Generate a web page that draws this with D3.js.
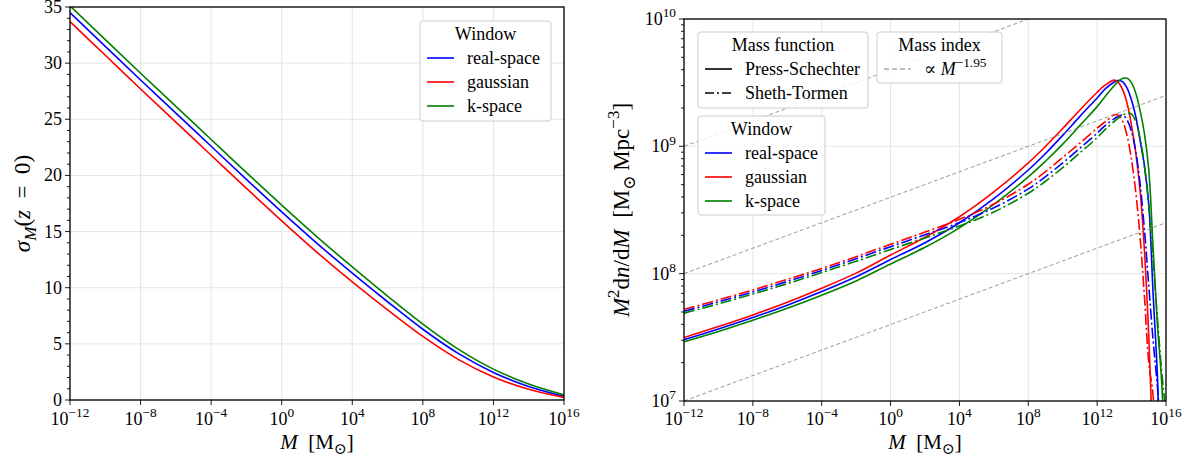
<!DOCTYPE html>
<html>
<head>
<meta charset="utf-8">
<script src="https://cdn.jsdelivr.net/npm/d3@7"></script>
<style>
  body { margin: 0; background: #fff; }
  text { font-family: "Liberation Serif", "DejaVu Serif", serif; fill: #000; }
</style>
</head>
<body>
<div id="chart"></div>
<script>
// ---- data: left panel, sigma_M(z=0) at M = 10^exp ----
const sigmaExp   = [-12, -10, -8, -6, -4, -2, 0, 2, 4, 6, 8, 10, 12, 14, 16];
const sigmaReal  = [34.5, 31.5, 28.5, 25.55, 22.6, 19.65, 16.75, 13.95, 11.3, 8.75, 6.3, 4.15, 2.45, 1.2, 0.32];
const sigmaGauss = [33.7, 30.7, 27.7, 24.75, 21.8, 18.85, 15.95, 13.15, 10.52, 8.03, 5.66, 3.62, 2.05, 0.95, 0.23];
const sigmaK     = [35.1, 32.1, 29.1, 26.15, 23.2, 20.25, 17.35, 14.53, 11.85, 9.25, 6.75, 4.53, 2.75, 1.42, 0.45];

// ---- data: right panel, M^2 dn/dM at M = 10^exp ----
const hmfExp = [-12, -10, -8, -6, -4, -2, 0, 2, 4, 6, 8, 9, 10, 11, 12, 12.5, 13, 13.25, 13.5, 13.75, 14, 14.25, 14.5, 14.75, 15, 15.25, 15.5, 15.75, 16];
const psGauss = [3.15e7, 3.84e7, 4.74e7, 5.97e7, 7.69e7, 1.01e8, 1.40e8, 1.93e8, 2.80e8, 4.39e8, 7.41e8, 1.0e9, 1.38e9, 1.93e9, 2.66e9, 3.05e9, 3.31e9, 3.15e9, 2.75e9, 2.15e9, 1.45e9, 8.8e8, 4.4e8, 1.5e8, 3.2e7, 4e6, 2e5, 5e3, 1e2];
const psReal  = [3.03e7, 3.68e7, 4.53e7, 5.66e7, 7.24e7, 9.46e7, 1.29e8, 1.75e8, 2.51e8, 3.88e8, 6.52e8, 8.79e8, 1.22e9, 1.72e9, 2.4e9, 2.85e9, 3.2e9, 3.3e9, 3.2e9, 2.85e9, 2.3e9, 1.7e9, 1.1e9, 7e8, 3.5e8, 7e7, 1.6e7, 1.5e6, 5e4];
const psK     = [2.92e7, 3.52e7, 4.31e7, 5.35e7, 6.78e7, 8.77e7, 1.19e8, 1.61e8, 2.29e8, 3.5e8, 5.75e8, 7.64e8, 1.04e9, 1.46e9, 2.05e9, 2.5e9, 3.0e9, 3.25e9, 3.42e9, 3.42e9, 3.15e9, 2.6e9, 1.9e9, 1.25e9, 6.5e8, 1.6e8, 4e7, 1.4e7, 2e6];
const stGauss = [5.25e7, 6.22e7, 7.45e7, 9.02e7, 1.10e8, 1.36e8, 1.70e8, 2.12e8, 2.67e8, 3.52e8, 5.04e8, 6.34e8, 8.17e8, 1.06e9, 1.39e9, 1.57e9, 1.77e9, 1.75e9, 1.55e9, 1.2e9, 7.8e8, 4.3e8, 1.9e8, 6.5e7, 2e7, 1.1e7, 2e6, 1e5, 1e3];
const stReal  = [5.07e7, 6.01e7, 7.18e7, 8.69e7, 1.06e8, 1.31e8, 1.63e8, 2.02e8, 2.52e8, 3.29e8, 4.63e8, 5.78e8, 7.41e8, 9.66e8, 1.27e9, 1.47e9, 1.65e9, 1.73e9, 1.76e9, 1.6e9, 1.3e9, 9e8, 5e8, 2.2e8, 8e7, 3e7, 1.3e7, 4e6, 5e5];
const stK     = [4.9e7, 5.79e7, 6.92e7, 8.34e7, 1.02e8, 1.25e8, 1.55e8, 1.91e8, 2.37e8, 3.05e8, 4.28e8, 5.32e8, 6.81e8, 8.89e8, 1.17e9, 1.37e9, 1.57e9, 1.67e9, 1.76e9, 1.82e9, 1.79e9, 1.55e9, 1.15e9, 7e8, 3.4e8, 1.3e8, 4.5e7, 1.7e7, 8e6];

// power law guides  M^2 dn/dM  ~ M^(2 + index), normalised at M = 1e-12
const massIndex = -1.95;
const guideNorms = [1e7, 1e8, 1e9];

const windows = ["real-space", "gaussian", "k-space"];
const winColors = ["#0000ff", "#ff0000", "#008000"];
const massTickExp = [-12, -8, -4, 0, 4, 8, 12, 16];
const sigmaTicks = [0, 5, 10, 15, 20, 25, 30, 35];
const hmfTicks = [1e7, 1e8, 1e9, 1e10];

const W = 1194, H = 458;
const svg = d3.select("#chart").append("svg").attr("width", W).attr("height", H);
const FS = 18;

// text with italic / sub / sup pieces
const rich = (t, parts, size) => {
  let shift = 0;
  parts.forEach(([s, st]) => {
    const sp = t.append("tspan").text(s);
    let target = 0;
    if (st.endsWith("sup")) target = -0.42 * size;
    if (st.endsWith("sub")) target = 0.25 * size;
    sp.attr("dy", target - shift);
    shift = target;
    if (target !== 0) sp.attr("font-size", size * 0.74);
    if (st[0] === "i") sp.attr("font-style", "italic");
  });
  return t;
};
const pow10 = e => [["10", ""], [(e < 0 ? "\u2212" : "") + Math.abs(e), "sup"]];

const frame = (P) => {
  svg.append("rect").attr("x", P.x0).attr("y", P.y0)
    .attr("width", P.x1 - P.x0).attr("height", P.y1 - P.y0)
    .attr("fill", "none").attr("stroke", "#000").attr("stroke-width", 1.3);
};

const legend = (x, y, w, h, title, items) => {
  const g = svg.append("g");
  g.append("rect").attr("x", x).attr("y", y).attr("width", w).attr("height", h)
    .attr("rx", 3).attr("fill", "#fff").attr("fill-opacity", 0.85)
    .attr("stroke", "#cccccc").attr("stroke-width", 1);
  g.append("text").attr("x", x + w / 2).attr("y", y + 13 + 6)
    .attr("text-anchor", "middle").attr("font-size", FS).text(title);
  items.forEach((it, i) => {
    const cy = y + 37 + i * 24;
    g.append("line").attr("x1", x + 7).attr("x2", x + 34).attr("y1", cy).attr("y2", cy)
      .attr("stroke", it.color).attr("stroke-width", it.width || 1.6)
      .attr("stroke-dasharray", it.dash || null);
    rich(g.append("text").attr("x", x + 47).attr("y", cy + 6).attr("font-size", FS), it.label, FS);
  });
};

const curve = d3.curveCatmullRom.alpha(0.5);

// ================= left panel =================
const L = {x0: 70, x1: 564, y0: 7, y1: 400};
const xL = d3.scaleLog().domain([1e-12, 1e16]).range([L.x0, L.x1]);
const yL = d3.scaleLinear().domain([0, 35]).range([L.y1, L.y0]);

svg.append("clipPath").attr("id", "clipL").append("rect")
  .attr("x", L.x0).attr("y", L.y0).attr("width", L.x1 - L.x0).attr("height", L.y1 - L.y0);

const gridL = svg.append("g").attr("stroke", "#dedede").attr("stroke-width", 0.8);
massTickExp.forEach(e => gridL.append("line").attr("x1", xL(10 ** e)).attr("x2", xL(10 ** e)).attr("y1", L.y0).attr("y2", L.y1));
sigmaTicks.forEach(v => gridL.append("line").attr("x1", L.x0).attr("x2", L.x1).attr("y1", yL(v)).attr("y2", yL(v)));

const lineL = d3.line().x(d => xL(10 ** d[0])).y(d => yL(d[1])).curve(curve);
[sigmaReal, sigmaGauss, sigmaK].forEach((s, i) => {
  svg.append("path").attr("clip-path", "url(#clipL)")
    .attr("d", lineL(sigmaExp.map((e, j) => [e, s[j]])))
    .attr("fill", "none").attr("stroke", winColors[i]).attr("stroke-width", 1.6);
});

// ticks left
const tL = svg.append("g").attr("stroke", "#000").attr("stroke-width", 0.9);
massTickExp.forEach(e => tL.append("line").attr("x1", xL(10 ** e)).attr("x2", xL(10 ** e)).attr("y1", L.y1).attr("y2", L.y1 + 5));
d3.range(0, 36).forEach(v => tL.append("line").attr("x1", L.x0).attr("x2", L.x0 - (v % 5 === 0 ? 5 : 3)).attr("y1", yL(v)).attr("y2", yL(v)));
frame(L);

massTickExp.forEach(e => rich(svg.append("text").attr("x", xL(10 ** e)).attr("y", 425)
  .attr("text-anchor", "middle").attr("font-size", FS), pow10(e), FS));
sigmaTicks.forEach(v => svg.append("text").attr("x", L.x0 - 8).attr("y", yL(v) + 6)
  .attr("text-anchor", "end").attr("font-size", FS).text(v));

rich(svg.append("text").attr("x", (L.x0 + L.x1) / 2).attr("y", 449).attr("text-anchor", "middle").attr("font-size", 21),
  [["M", "i"], ["\u2002[M", ""], ["\u2299", "sub"], ["]", ""]], 21);
rich(svg.append("text").attr("transform", `translate(30,${(L.y0 + L.y1) / 2}) rotate(-90)`)
  .attr("text-anchor", "middle").attr("font-size", 23),
  [["\u03c3", "i"], ["M", "isub"], ["(", ""], ["z", "i"], ["\u2002=\u20020)", ""]], 23);

legend(420, 21, 131, 100, "Window",
  windows.map((w, i) => ({label: [[w, ""]], color: winColors[i]})));

// ================= right panel =================
const R = {x0: 684, x1: 1166, y0: 19, y1: 401};
const xR = d3.scaleLog().domain([1e-12, 1e16]).range([R.x0, R.x1]);
const yR = d3.scaleLog().domain([1e7, 1e10]).range([R.y1, R.y0]);

svg.append("clipPath").attr("id", "clipR").append("rect")
  .attr("x", R.x0).attr("y", R.y0).attr("width", R.x1 - R.x0).attr("height", R.y1 - R.y0);

const gridR = svg.append("g").attr("stroke", "#dedede").attr("stroke-width", 0.8);
massTickExp.forEach(e => gridR.append("line").attr("x1", xR(10 ** e)).attr("x2", xR(10 ** e)).attr("y1", R.y0).attr("y2", R.y1));
hmfTicks.forEach(v => gridR.append("line").attr("x1", R.x0).attr("x2", R.x1).attr("y1", yR(v)).attr("y2", yR(v)));

const plotR = svg.append("g").attr("clip-path", "url(#clipR)");
const lineR = d3.line().x(d => xR(10 ** d[0])).y(d => yR(d[1])).curve(curve);
[psReal, psGauss, psK].forEach((s, i) => {
  plotR.append("path").attr("d", lineR(hmfExp.map((e, j) => [e, s[j]])))
    .attr("fill", "none").attr("stroke", winColors[i]).attr("stroke-width", 1.6);
});
[stReal, stGauss, stK].forEach((s, i) => {
  plotR.append("path").attr("d", lineR(hmfExp.map((e, j) => [e, s[j]])))
    .attr("fill", "none").attr("stroke", winColors[i]).attr("stroke-width", 1.6)
    .attr("stroke-dasharray", "11,3,2,3");
});
guideNorms.forEach(n => {
  const pts = [-12, 16].map(e => [e, n * Math.pow(10 ** e / 1e-12, 2 + massIndex)]);
  plotR.append("path").attr("d", d3.line().x(d => xR(10 ** d[0])).y(d => yR(d[1]))(pts))
    .attr("fill", "none").attr("stroke", "#808080").attr("stroke-width", 0.8)
    .attr("stroke-dasharray", "4,2.5");
});

const tR = svg.append("g").attr("stroke", "#000").attr("stroke-width", 0.9);
massTickExp.forEach(e => tR.append("line").attr("x1", xR(10 ** e)).attr("x2", xR(10 ** e)).attr("y1", R.y1).attr("y2", R.y1 + 5));
hmfTicks.forEach(v => tR.append("line").attr("x1", R.x0).attr("x2", R.x0 - 5).attr("y1", yR(v)).attr("y2", yR(v)));
[1e7, 1e8, 1e9].forEach(b => d3.range(2, 10).forEach(k =>
  tR.append("line").attr("x1", R.x0).attr("x2", R.x0 - 3).attr("y1", yR(b * k)).attr("y2", yR(b * k))));
frame(R);

massTickExp.forEach(e => rich(svg.append("text").attr("x", xR(10 ** e)).attr("y", 425)
  .attr("text-anchor", "middle").attr("font-size", FS), pow10(e), FS));
hmfTicks.forEach(v => rich(svg.append("text").attr("x", R.x0 - 8).attr("y", yR(v) + 6)
  .attr("text-anchor", "end").attr("font-size", FS), pow10(Math.round(Math.log10(v))), FS));

rich(svg.append("text").attr("x", (R.x0 + R.x1) / 2).attr("y", 449).attr("text-anchor", "middle").attr("font-size", 21),
  [["M", "i"], ["\u2002[M", ""], ["\u2299", "sub"], ["]", ""]], 21);
rich(svg.append("text").attr("transform", `translate(629,${(R.y0 + R.y1) / 2}) rotate(-90)`)
  .attr("text-anchor", "middle").attr("font-size", 23),
  [["M", "i"], ["2", "sup"], ["d", ""], ["n", "i"], ["/d", ""], ["M", "i"], ["\u2002[M", ""], ["\u2299", "sub"],
   ["\u2009Mpc", ""], ["\u22123", "sup"], ["]", ""]], 23);

legend(698, 32, 170, 76, "Mass function", [
  {label: [["Press-Schechter", ""]], color: "#000"},
  {label: [["Sheth-Tormen", ""]], color: "#000", dash: "9,3,2,3"}
]);
legend(877, 32, 125, 51, "Mass index", [
  {label: [["\u221d ", ""], ["M", "i"], ["\u22121.95", "sup"]], color: "#808080", dash: "5,3", width: 1.1}
]);
legend(698, 116, 127, 99, "Window",
  windows.map((w, i) => ({label: [[w, ""]], color: winColors[i]})));
</script>
</body>
</html>
